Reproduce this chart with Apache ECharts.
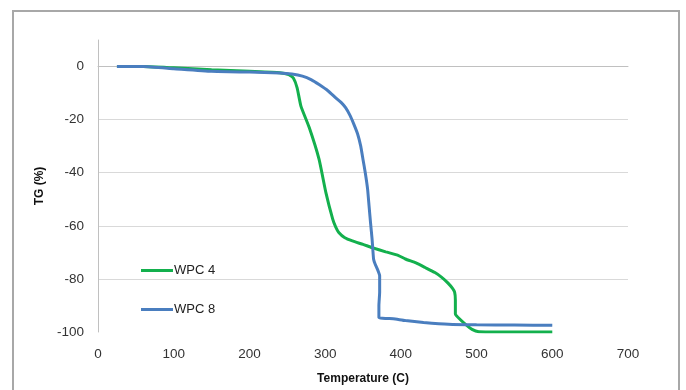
<!DOCTYPE html>
<html>
<head>
<meta charset="utf-8">
<script src="https://cdn.jsdelivr.net/npm/echarts@6/dist/echarts.min.js"></script>
<style>
html,body{margin:0;padding:0;background:#fff;}
#wrap{position:relative;width:686px;height:390px;overflow:hidden;}
#chart{position:absolute;left:0;top:0;width:686px;height:390px;}
#frame{position:absolute;left:12px;top:10px;width:668px;height:420px;border:2px solid #a8a8a8;box-sizing:border-box;pointer-events:none;}
</style>
</head>
<body>
<div id="wrap"><div id="chart"></div><div id="frame"></div></div>
<script>
var seriesNames = ['WPC 4', 'WPC 8'];
var wpc4 = [
  [25,0],[60,0],[100,-0.5],[150,-1.2],[200,-1.8],[240,-2.3],[252,-3],[258,-4.3],
  [263,-8],[268,-14.9],[279,-23],[292,-35],[301,-47.5],[310,-57.5],[314,-60.5],
  [318,-62.5],[326,-64.5],[336,-65.7],[350,-67],[362,-68.2],[380,-69.8],[397,-71.2],
  [406,-72.5],[420,-74],[432,-75.7],[445,-77.6],[454,-79.4],[462,-81.5],[468,-83.5],
  [471,-85],[472,-88],[472,-93.2],[478,-95.2],[485,-97],[494,-99],[503,-99.9],
  [530,-100],[560,-100],[600,-100]
];
var wpc8 = [
  [25,0],[60,0],[100,-0.8],[150,-1.8],[200,-2.1],[240,-2.4],[256,-2.8],[270,-3.6],
  [282,-5],[292,-6.8],[304,-9.2],[314,-11.8],[321,-13.5],[327,-15.5],[333,-18.5],
  [338,-21.8],[343,-25.5],[347,-30],[350,-35],[353,-40],[356,-46],[358,-52.5],
  [360,-59],[362,-65],[363,-69],[364,-72.6],[366,-74.4],[369,-76.3],[372,-78.8],
  [372,-85],[371,-90],[371,-94.5],[390,-95],[406,-95.7],[430,-96.4],[463,-97.1],
  [500,-97.3],[550,-97.4],[600,-97.5]
];
var xTicks = [0, 700, 100];
var yTicks = [-100, 10, 20];

var chart = echarts.init(document.getElementById('chart'));
var font = 'Liberation Sans, Arial, sans-serif';
chart.setOption({
  animation: false,
  backgroundColor: '#fff',
  textStyle: {fontFamily: font},
  grid: {left: 98, right: 58, top: 40, bottom: 57},
  legend: {
    orient: 'vertical',
    left: 136, top: 259,
    itemGap: 26,
    itemWidth: 32, itemHeight: 3,
    icon: 'rect',
    textStyle: {fontSize: 13, color: '#222', fontFamily: font, padding: [0,0,0,-4]},
    data: seriesNames
  },
  xAxis: {
    type: 'value',
    min: xTicks[0], max: xTicks[1], interval: xTicks[2],
    name: 'Temperature (C)',
    nameLocation: 'middle', nameGap: 41,
    nameTextStyle: {fontSize: 12, fontWeight: 'bold', color: '#111', fontFamily: font},
    axisLine: {show: true, lineStyle: {color: '#c0c0c0', width: 1}},
    axisTick: {show: false},
    splitLine: {show: false},
    axisLabel: {fontSize: 13.5, color: '#333', margin: 15}
  },
  yAxis: {
    type: 'value',
    min: yTicks[0], max: yTicks[1], interval: yTicks[2],
    name: 'TG (%)',
    nameLocation: 'middle', nameGap: 49, nameRotate: 90,
    nameTextStyle: {fontSize: 12, fontWeight: 'bold', color: '#111', fontFamily: font},
    axisLine: {show: true, lineStyle: {color: '#c0c0c0', width: 1}},
    axisTick: {show: false},
    splitLine: {show: true, showMaxLine: false, showMinLine: false, lineStyle: {color: '#d9d9d9', width: 1}},
    axisLabel: {fontSize: 13.5, color: '#333', margin: 14, showMaxLabel: false,
      formatter: function(v){ return v > 0 ? '' : String(v); }}
  },
  series: [
    {name: seriesNames[0], type: 'line', data: wpc4, showSymbol: false, smooth: 0.15,
     lineStyle: {width: 3, color: '#13b04d'}, itemStyle: {color: '#13b04d'}},
    {name: seriesNames[1], type: 'line', data: wpc8, showSymbol: false, smooth: 0.15,
     lineStyle: {width: 3, color: '#4a7ebf'}, itemStyle: {color: '#4a7ebf'}}
  ]
});
</script>
</body>
</html>
